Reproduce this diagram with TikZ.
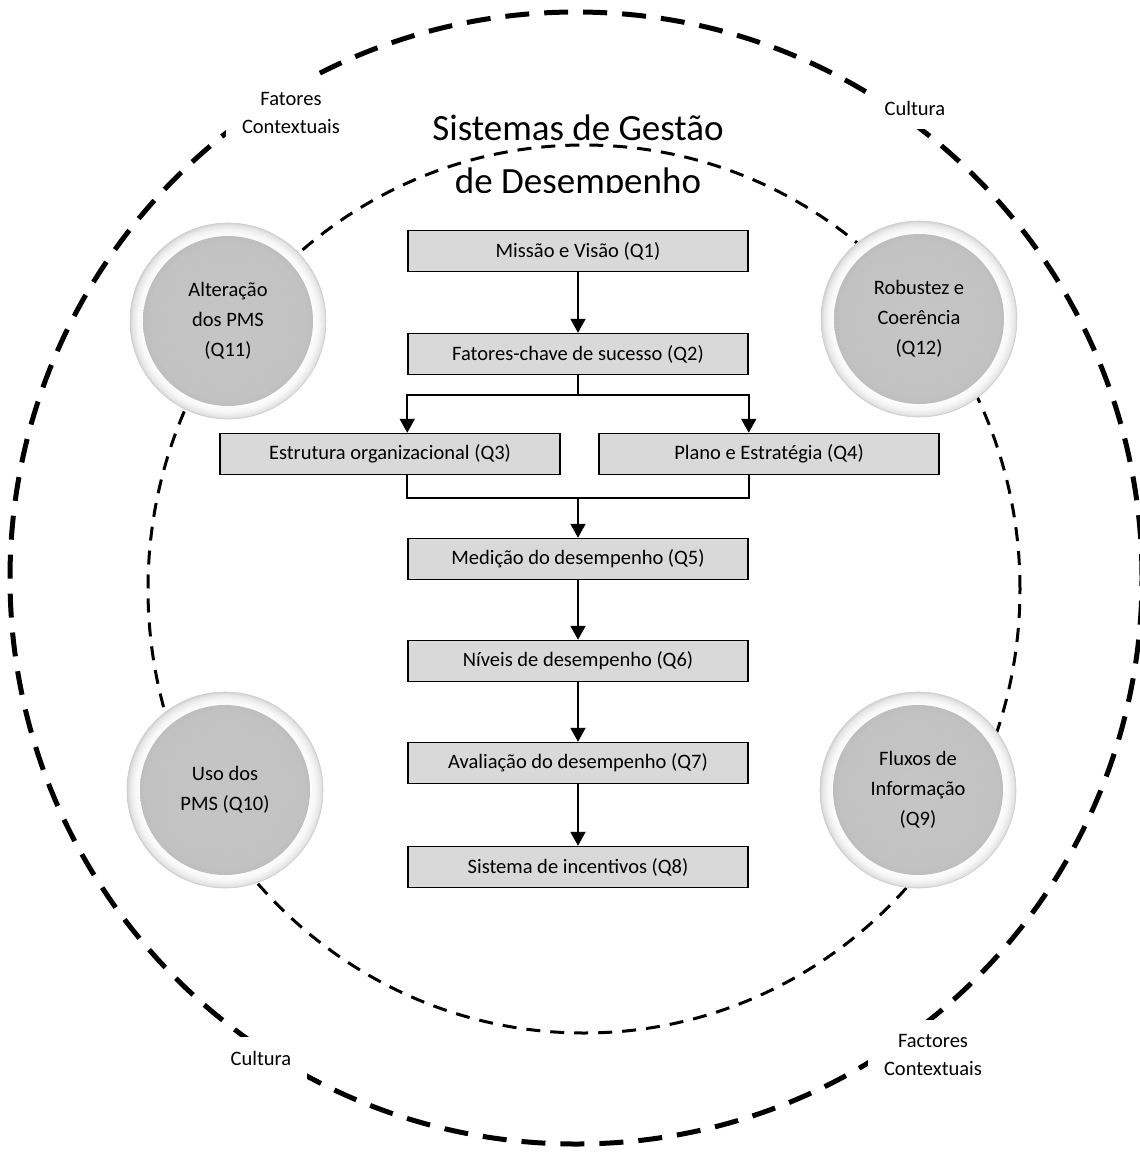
\documentclass[tikz,border=0pt]{standalone}
\usepackage{fontspec}
\setmainfont{Carlito}
\usetikzlibrary{arrows.meta}

\pgfdeclareradialshading{btnring}{\pgfpoint{0bp}{0bp}}{color(0bp)=(white); color(21bp)=(white); color(23bp)=(gray!6); color(24.4bp)=(gray!20); color(25bp)=(gray!35); color(50bp)=(gray!35)}
\pgfdeclareradialshading{btndisk}{\pgfpoint{0bp}{0bp}}{color(0bp)=(gray!45); color(20bp)=(gray!48); color(24bp)=(gray!56); color(25bp)=(gray!60); color(50bp)=(gray!60)}

\tikzset{
    qbox/.style={draw, line width=1.5pt, fill=gray!30, minimum width=340pt, minimum height=41pt, font=\fontsize{20.5}{24}\selectfont},
    flow/.style={line width=2pt, -{Triangle[width=15pt,length=14pt]}},
    link/.style={line width=2pt},
    button/.style={circle, minimum size=196pt, inner sep=0pt, shade, shading=btnring, draw=gray!40, line width=0.6pt, align=center, font=\fontsize{20.5}{30}\selectfont,
        path picture={\shade[shading=btndisk] (path picture bounding box.center) circle (85pt);}},
    ctxlabel/.style={fill=white, align=center, inner xsep=16pt, inner ysep=14pt, font=\fontsize{20.5}{28}\selectfont}
}

\begin{document}
\begin{tikzpicture}[x=1pt, y=-1pt]
    \clip (0,0) rectangle (1140,1152);
    % Outer ring: culture and context
    \draw[line width=5pt, dash pattern=on 24pt off 15pt] (576,578) circle[radius=566pt];
    % Inner ring: the performance management system
    \draw[line width=3pt, dash pattern=on 14pt off 10pt] (584,589) ellipse[x radius=436pt, y radius=444pt];
    % Labels sitting on the outer ring
    \node[ctxlabel] (ctxtl) at (291,113) {Fatores\\Contextuais};
    \node[ctxlabel] (cultr) at (915,108) {Cultura};
    \node[ctxlabel] (cultl) at (261,1058) {Cultura};
    \node[ctxlabel] (ctxbr) at (933,1055) {Factores\\Contextuais};
    % Title, cut at the bottom
    \begin{scope}
        \clip (300,90) rectangle (860,192);
        \node[align=center, font=\fontsize{37}{53}\selectfont] (title) at (578,157) {Sistemas de Gestão\\de Desempenho};
    \end{scope}
    % Round buttons
    \node[button] (q11) at (228,321) {Alteração\\dos PMS\\(Q11)};
    \node[button] (q12) at (919,319) {Robustez e\\Coerência\\(Q12)};
    \node[button] (q10) at (225,790) {Uso dos\\PMS (Q10)};
    \node[button] (q9) at (918,790) {Fluxos de\\Informação\\(Q9)};
    % Flow of boxes
    \node[qbox] (q1) at (578,251) {Missão e Visão (Q1)};
    \node[qbox] (q2) at (578,354) {Fatores-chave de sucesso (Q2)};
    \node[qbox] (q3) at (390,454) {Estrutura organizacional (Q3)};
    \node[qbox] (q4) at (769,454) {Plano e Estratégia (Q4)};
    \node[qbox] (q5) at (578,559) {Medição do desempenho (Q5)};
    \node[qbox] (q6) at (578,661) {Níveis de desempenho (Q6)};
    \node[qbox] (q7) at (578,763) {Avaliação do desempenho (Q7)};
    \node[qbox] (q8) at (578,867) {Sistema de incentivos (Q8)};
    % Straight arrows
    \foreach \a/\b in {q1/q2, q5/q6, q6/q7, q7/q8}
        \draw[flow] (\a) -- (\b);
    % Split after Q2
    \draw[link] (q2.south) -- ++(0,20) coordinate (split);
    \draw[flow] (split) -| (q3.north -| q2.west);
    \draw[flow] (split) -| (q4.north -| q2.east);
    % Join before Q5
    \draw[link] (q3.south -| q5.west) -- ++(0,23) coordinate (merge) -| (q4.south -| q5.east);
    \draw[flow] (merge -| q5.north) -- (q5.north);
\end{tikzpicture}
\end{document}
